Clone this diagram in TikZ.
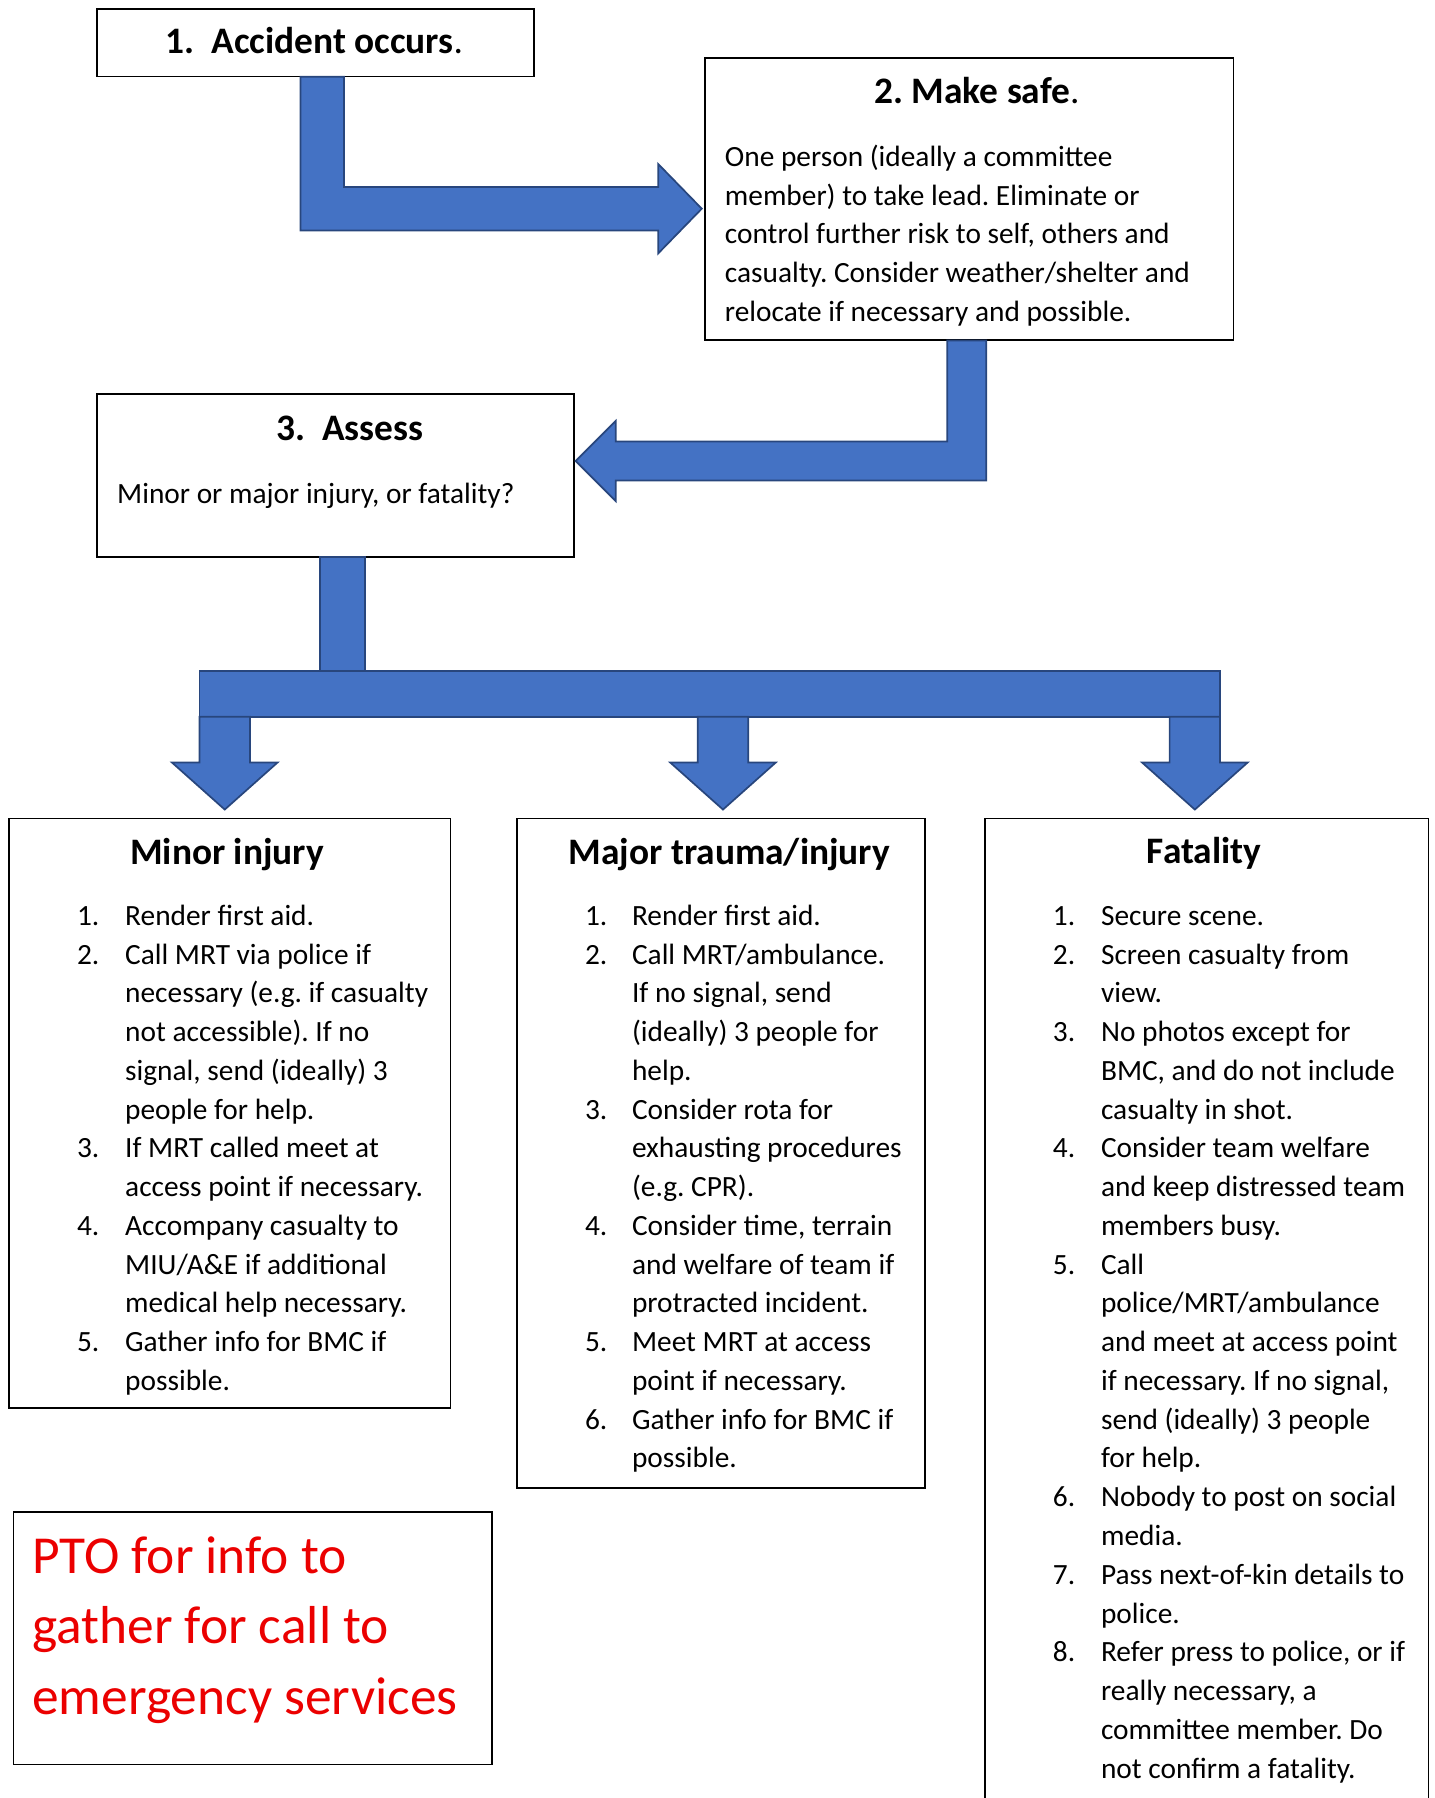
\documentclass[tikz,border=0pt]{standalone}
\usepackage{fontspec}
\setmainfont{Carlito}
\usepackage{array}
\frenchspacing
\definecolor{arrowfill}{RGB}{68,114,196}
\definecolor{arrowline}{RGB}{40,70,125}
\definecolor{ptored}{RGB}{235,0,0}
\newcommand{\bodyfont}{\fontsize{25.6}{33.8}\selectfont}
\newcommand{\headfont}{\fontsize{32.6}{40}\selectfont\bfseries}
\begin{document}
\begin{tikzpicture}[x=1pt,y=-1pt,
  box/.style={draw=black, line width=1.5pt, anchor=north west, inner sep=0pt},
  blockarrow/.style={fill=arrowfill, draw=arrowline, line width=1.5pt, line join=miter},
  head/.style={font=\headfont, anchor=base, inner sep=0pt},
  body/.style={font=\bodyfont, anchor=base west, inner sep=0pt},
  pto/.style={font=\fontsize{46.6}{61.5}\selectfont, text=ptored, anchor=base west, inner sep=0pt},
]
\useasboundingbox (0,0) rectangle (1251,1568);

% boxes
\node[box, minimum width=381pt, minimum height=59pt] (b1) at (84,7) {};
\node[box, minimum width=461pt, minimum height=246pt] (b2) at (614,50) {};
\node[box, minimum width=416pt, minimum height=142pt] (b3) at (84,343) {};
\node[box, minimum width=385pt, minimum height=514pt] (minor) at (7,713) {};
\node[box, minimum width=356pt, minimum height=584pt] (major) at (450,713) {};
\node[box, minimum width=387pt, minimum height=880pt] (fatal) at (858,713) {};
\node[box, minimum width=417pt, minimum height=220pt] (ptobox) at (11,1318) {};

% block arrows
\path[blockarrow] (262,67) -- (300,67) -- (300,163) -- (574,163) -- (574,143)
  -- (612,182) -- (574,221) -- (574,201) -- (262,201) -- cycle;
\path[blockarrow] (826,297) -- (860,297) -- (860,419) -- (537,419) -- (537,437)
  -- (502,402) -- (537,367) -- (537,385) -- (826,385) -- cycle;
\path[blockarrow] (279,486) rectangle (318,585);
\path[blockarrow] (174,585) rectangle (1064,625);
\foreach \c/\n in {196/dl, 630.5/dm, 1042/dr}{
  \path[blockarrow] (\c-22,625) -- (\c+22,625) -- (\c+22,665) -- (\c+46,665)
    -- (\c,706) -- (\c-46,665) -- (\c-22,665) -- cycle;
}

% headings
\node[head] (t1) at (274,47) {1.\hspace{15pt}Accident occurs\mdseries.};
\node[head] (t2) at (852,90) {2. Make safe\mdseries.};
\node[head] (t3) at (305,384) {3.\hspace{15pt}Assess};
\node[head] (t4) at (198,754) {Minor injury};
\node[head] (t5) at (636,754) {Major trauma/injury};
\node[head] (t6) at (1050,753) {Fatality};

% body texts
\node[body] (s2) at (632,145) {\begin{tabular}[t]{@{}l@{}}
One person (ideally a committee\\
member) to take lead. Eliminate or\\
control further risk to self, others and\\
casualty. Consider weather/shelter and\\
relocate if necessary and possible.
\end{tabular}};
\node[body] (s3) at (102,439) {Minor or major injury, or fatality?};

\node[body] (l1) at (67,807) {\begin{tabular}[t]{@{}p{42pt}@{}l@{}}
1. & Render first aid.\\
2. & Call MRT via police if\\
   & necessary (e.g. if casualty\\
   & not accessible). If no\\
   & signal, send (ideally) 3\\
   & people for help.\\
3. & If MRT called meet at\\
   & access point if necessary.\\
4. & Accompany casualty to\\
   & MIU/A\&E if additional\\
   & medical help necessary.\\
5. & Gather info for BMC if\\
   & possible.
\end{tabular}};

\node[body] (l2) at (510,807) {\begin{tabular}[t]{@{}p{41pt}@{}l@{}}
1. & Render first aid.\\
2. & Call MRT/ambulance.\\
   & If no signal, send\\
   & (ideally) 3 people for\\
   & help.\\
3. & Consider rota for\\
   & exhausting procedures\\
   & (e.g. CPR).\\
4. & Consider time, terrain\\
   & and welfare of team if\\
   & protracted incident.\\
5. & Meet MRT at access\\
   & point if necessary.\\
6. & Gather info for BMC if\\
   & possible.
\end{tabular}};

\node[body] (l3) at (918,807) {\begin{tabular}[t]{@{}p{42pt}@{}l@{}}
1. & Secure scene.\\
2. & Screen casualty from\\
   & view.\\
3. & No photos except for\\
   & BMC, and do not include\\
   & casualty in shot.\\
4. & Consider team welfare\\
   & and keep distressed team\\
   & members busy.\\
5. & Call\\
   & police/MRT/ambulance\\
   & and meet at access point\\
   & if necessary. If no signal,\\
   & send (ideally) 3 people\\
   & for help.\\
6. & Nobody to post on social\\
   & media.\\
7. & Pass next-of-kin details to\\
   & police.\\
8. & Refer press to police, or if\\
   & really necessary, a\\
   & committee member. Do\\
   & not confirm a fatality.
\end{tabular}};

\node[pto] (p1) at (28,1372) {\begin{tabular}[t]{@{}l@{}}
PTO for info to\\
gather for call to\\
emergency services
\end{tabular}};
\end{tikzpicture}
\end{document}
